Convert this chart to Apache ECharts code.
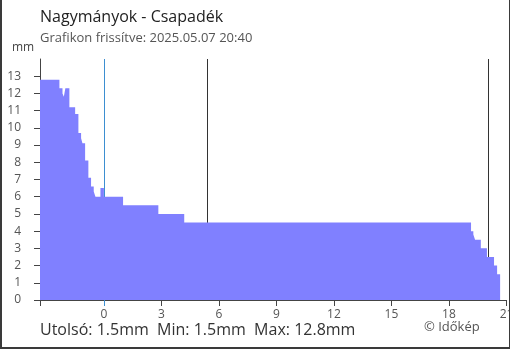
<!DOCTYPE html>
<html>
<head>
<meta charset="utf-8">
<script src="https://cdn.jsdelivr.net/npm/echarts@6/dist/echarts.min.js"></script>
<style>
html,body{margin:0;padding:0;background:#fff;}
#wrap{position:relative;width:510px;height:350px;}
#chart{width:510px;height:350px;}
#frame{position:absolute;left:0;top:0;width:510px;height:349px;box-sizing:border-box;border-left:2px solid #3a3a3a;border-right:1px solid #3a3a3a;border-bottom:2px solid #3a3a3a;pointer-events:none;}
</style>
</head>
<body>
<div id="wrap"><div id="chart"></div><div id="frame"></div></div>
<script>
// Step start times (hours relative to midnight 2025.05.07) and precipitation values (mm)
const stepStartHours = [-3.333, -2.32, -2.16, -2.09, -2.01, -1.80, -1.50, -1.33, -1.19, -1.12, -0.98, -0.81, -0.67, -0.53, -0.44, -0.18, 0.0, 1.0, 2.84, 4.19, 19.15, 19.27, 19.36, 19.66, 19.98, 20.35, 20.51];
const stepValues = [12.8, 12.3, 12.0, 11.8, 12.3, 11.2, 10.8, 9.7, 9.4, 9.1, 8.1, 7.1, 6.6, 6.3, 6.0, 6.5, 6.0, 5.5, 5.0, 4.5, 4.0, 3.8, 3.5, 3.0, 2.5, 2.0, 1.5];
const endHour = 20.667;
const axisStart = -3.333;
const axisEnd = 21;
const xTickLabels = [0, 3, 6, 9, 12, 15, 18, 21];
const yTickLabels = [0, 1, 2, 3, 4, 5, 6, 7, 8, 9, 10, 11, 12, 13];
const midnightHour = 0;
const sunriseHour = 5.38;
const sunsetHour = 20.05;
const titleText = 'Nagymányok - Csapadék';
const subText = 'Grafikon frissítve: 2025.05.07 20:40';
const unitText = 'mm';
const statsText = 'Utolsó: 1.5mm  Min: 1.5mm  Max: 12.8mm';
const creditText = '© Időkép';

const seriesData = stepStartHours.map((h, i) => [h, stepValues[i]]);
seriesData.push([endHour, stepValues[stepValues.length - 1]]);

const FONT = '"Open Sans", "Noto Sans", sans-serif';
const chart = echarts.init(document.getElementById('chart'), null, {renderer: 'canvas'});
chart.setOption({
  animation: false,
  backgroundColor: '#fff',
  grid: {left: 40, right: 3.5, top: 59, bottom: 50, containLabel: false, outerBoundsMode: 'none'},
  xAxis: [{
    type: 'value', min: axisStart, max: axisEnd,
    axisLine: {show: true, onZero: false, lineStyle: {color: '#444', width: 1}},
    axisTick: {show: true, length: 6, customValues: [axisStart].concat(xTickLabels.filter(v => v !== 0)), lineStyle: {color: '#444'}},
    axisLabel: {show: true, customValues: xTickLabels, color: '#555', fontSize: 12, fontFamily: FONT, margin: 9, hideOverlap: false},
    splitLine: {show: false}
  }, {
    type: 'value', min: axisStart, max: axisEnd, position: 'bottom', offset: 0,
    axisLine: {show: false, onZero: false},
    axisTick: {show: true, length: 6, customValues: [midnightHour], lineStyle: {color: '#3d8fd1'}},
    axisLabel: {show: false},
    splitLine: {show: false}
  }],
  yAxis: {
    type: 'value', min: 0, max: 14, interval: 1, position: 'left',
    axisLine: {show: true, onZero: false, lineStyle: {color: '#444', width: 1}},
    axisTick: {show: true, length: 6, customValues: yTickLabels, lineStyle: {color: '#444'}},
    axisLabel: {show: true, customValues: yTickLabels, color: '#555', fontSize: 12, fontFamily: FONT, margin: 19},
    splitLine: {show: false}
  },
  graphic: [
    {type: 'text', left: 40, top: 9, style: {text: titleText, font: '16px ' + FONT, fill: '#222'}},
    {type: 'text', left: 40, top: 32, style: {text: subText, font: '13px ' + FONT, fill: '#555'}},
    {type: 'text', left: 12, top: 42, style: {text: unitText, font: '12px ' + FONT, fill: '#444'}},
    {type: 'text', left: 40, top: 322, style: {text: statsText, font: '16px ' + FONT, fill: '#333'}},
    {type: 'text', left: 424, top: 321, style: {text: creditText, font: '13px ' + FONT, fill: '#555'}}
  ],
  series: [{
    type: 'line', xAxisIndex: 0, z: 1,
    data: [],
    markLine: {
      silent: true, z: 1, symbol: ['none', 'none'],
      label: {show: false},
      lineStyle: {type: 'solid', width: 1, color: '#333'},
      data: [
        {xAxis: midnightHour, lineStyle: {color: '#3d8fd1', type: 'solid', width: 1}},
        {xAxis: sunriseHour},
        {xAxis: sunsetHour}
      ]
    }
  }, {
    type: 'line', step: 'end', xAxisIndex: 0, z: 3,
    data: seriesData,
    showSymbol: false, symbol: 'none',
    lineStyle: {width: 0, opacity: 0},
    areaStyle: {color: '#8080ff', opacity: 1}
  }]
});
</script>
</body>
</html>
